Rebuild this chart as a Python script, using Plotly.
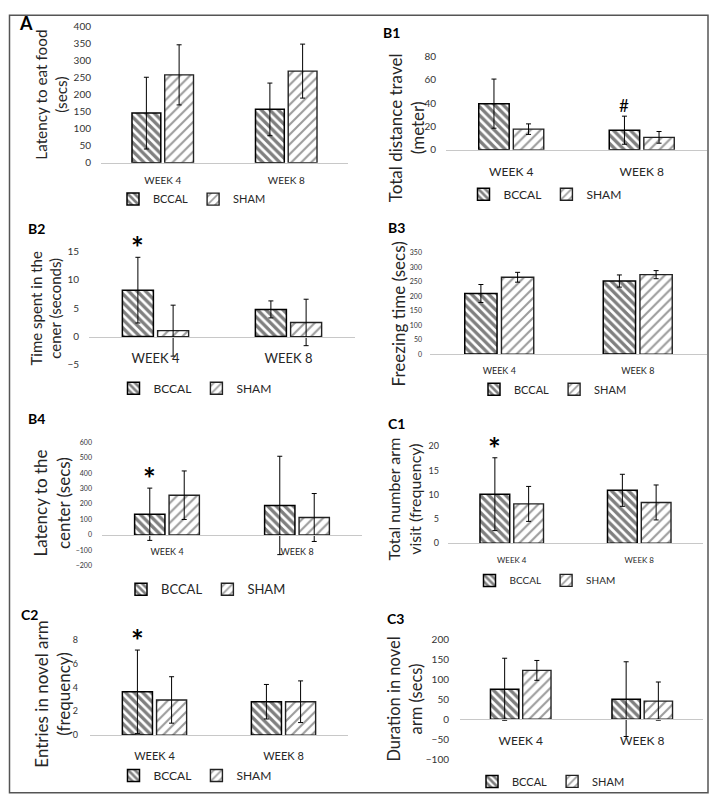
import plotly.graph_objects as go

W, H = 721, 812
FONT = "Lato, 'Open Sans', sans-serif"
TXT = "#262626"

categories = ["WEEK 4", "WEEK 8"]
groups = ["BCCAL", "SHAM"]

# ---- data (mean and SD per group, per week) ----
a_bccal = [145, 156]
a_bccal_sd = [105, 77]
a_sham = [257, 268]
a_sham_sd = [88, 79]

b1_bccal = [39.5, 16.8]
b1_bccal_sd = [21, 12]
b1_sham = [17.7, 10.7]
b1_sham_sd = [4.5, 5]

b2_bccal = [8.2, 4.8]
b2_bccal_sd = [5.8, 1.5]
b2_sham = [1.05, 2.5]
b2_sham_sd = [4.5, 4.1]

b3_bccal = [209, 252]
b3_bccal_sd = [31, 21]
b3_sham = [265, 274]
b3_sham_sd = [17, 14]

b4_bccal = [134, 191]
b4_bccal_sd = [169, 318]
b4_sham = [257, 113]
b4_sham_sd = [157, 155]

c1_bccal = [10.1, 10.9]
c1_bccal_sd = [7.5, 3.3]
c1_sham = [8.1, 8.4]
c1_sham_sd = [3.6, 3.6]

c2_bccal = [3.64, 2.8]
c2_bccal_sd = [3.5, 1.45]
c2_sham = [2.95, 2.8]
c2_sham_sd = [1.95, 1.75]

c3_bccal = [75.6, 50.7]
c3_bccal_sd = [78, 94]
c3_sham = [123, 45.8]
c3_sham_sd = [25, 48]

# significance marks: (symbol, group index, category index)
b1_marks = [("#", 0, 1)]
b2_marks = [("*", 0, 0)]
b4_marks = [("*", 0, 0)]
c1_marks = [("*", 0, 0)]
c2_marks = [("*", 0, 0)]

y_titles = {
    "A": "Latency to eat food<br>(secs)",
    "B1": "Total distance travel<br>(meter)",
    "B2": "Time spent in the<br>cener (seconds)",
    "B3": "Freezing time (secs)",
    "B4": "Latency to the<br>center (secs)",
    "C1": "Total number arm<br>visit (frequency)",
    "C2": "Entries in novel arm<br>(frequency)",
    "C3": "Duration in novel<br>arm (secs)",
}

BARGAP = 0.47
BARGROUPGAP = 0.12


def px(x):
    return x / W


def py(y):
    return 1 - y / H


# layout specs (pixel positions of each panel)
specs = [
    dict(name="A", data=(a_bccal, a_bccal_sd, a_sham, a_sham_sd), marks=[],
         xs=(101, 348), ys=(19.3, 158), rng=(0, 400), dtick=50, tf=10, tst=9, cf=10, cst=8,
         tpos=(51, 89), tsz=15.3, lpos=(26, 16), lsz=18, gpos=(192, 195), gsz=11),
    dict(name="B1", data=(b1_bccal, b1_bccal_sd, b1_sham, b1_sham_sd), marks=b1_marks,
         xs=(446, 707), ys=(50, 145), rng=(0, 80), dtick=20, tf=10, tst=9, cf=12, cst=11,
         tpos=(406, 123), tsz=17, lpos=(391, 26), lsz=14, gpos=(545, 190), gsz=12),
    dict(name="B2", data=(b2_bccal, b2_bccal_sd, b2_sham, b2_sham_sd), marks=b2_marks,
         xs=(89, 355), ys=(248.3, 363.3), rng=(-5, 15), dtick=5, tf=10, tst=9, cf=13, cst=10,
         tpos=(46, 306), tsz=15, lpos=(36, 225), lsz=14, gpos=(195, 387), gsz=12),
    dict(name="B3", data=(b3_bccal, b3_bccal_sd, b3_sham, b3_sham_sd), marks=[],
         xs=(430, 707), ys=(249.3, 352.3), rng=(0, 350), dtick=50, tf=7, tst=7, cf=9, cst=8,
         tpos=(398, 312), tsz=17, lpos=(396, 224), lsz=14, gpos=(553, 388), gsz=11),
    dict(name="B4", data=(b4_bccal, b4_bccal_sd, b4_sham, b4_sham_sd), marks=b4_marks,
         xs=(102, 362), ys=(441.7, 567.3), rng=(-200, 600), dtick=100, tf=7, tst=9, cf=9, cst=8,
         tpos=(52, 504), tsz=17, lpos=(36, 418), lsz=14, gpos=(206, 591), gsz=13),
    dict(name="C1", data=(c1_bccal, c1_bccal_sd, c1_sham, c1_sham_sd), marks=c1_marks,
         xs=(448, 703), ys=(445.7, 544.3), rng=(0, 20), dtick=5, tf=9, tst=8, cf=8, cst=9,
         tpos=(404, 500), tsz=16, lpos=(396, 423), lsz=14, gpos=(545, 582), gsz=10),
    dict(name="C2", data=(c2_bccal, c2_bccal_sd, c2_sham, c2_sham_sd), marks=c2_marks,
         xs=(90, 348), ys=(642.3, 739), rng=(0, 8), dtick=2, tf=9, tst=11, cf=11, cst=11,
         tpos=(53, 698), tsz=17, lpos=(29, 617), lsz=14, gpos=(195, 780), gsz=12),
    dict(name="C3", data=(c3_bccal, c3_bccal_sd, c3_sham, c3_sham_sd), marks=[],
         xs=(460, 703), ys=(642.3, 763.3), rng=(-100, 200), dtick=50, tf=10, tst=10, cf=12, cst=10,
         tpos=(405, 703), tsz=16.5, lpos=(395, 621), lsz=14, gpos=(551, 786), gsz=11),
]

styles = [
    dict(color="white", line=dict(color="black", width=1.5),
         pattern=dict(shape="\\", fgcolor="black", bgcolor="white", size=6, solidity=0.55)),
    dict(color="white", line=dict(color="#222", width=1.4),
         pattern=dict(shape="/", fgcolor="#3a3a3a", bgcolor="white", size=7, solidity=0.3)),
]

fig = go.Figure()
layout = dict(
    width=W, height=H, margin=dict(l=0, r=0, t=0, b=0),
    paper_bgcolor="white", plot_bgcolor="white",
    barmode="group", bargap=BARGAP, bargroupgap=BARGROUPGAP,
    font=dict(family=FONT, color=TXT),
    showlegend=True,
)
annotations = []

for i, s in enumerate(specs):
    n = "" if i == 0 else str(i + 1)
    xref, yref = "x" + n, "y" + n
    leg = "legend" + n
    bccal, bccal_sd, sham, sham_sd = s["data"]
    for gi, (vals, sd) in enumerate([(bccal, bccal_sd), (sham, sham_sd)]):
        fig.add_trace(go.Bar(
            x=categories, y=vals, name=groups[gi],
            marker=styles[gi],
            error_y=dict(type="data", array=sd, color="black", thickness=1, width=2.5),
            xaxis=xref, yaxis=yref, legend=leg, showlegend=True,
        ))
    y0, y1 = py(s["ys"][1]), py(s["ys"][0])
    r0, r1 = s["rng"]
    zero_pos = y0 + (0 - r0) / (r1 - r0) * (y1 - y0)
    layout["xaxis" + n] = dict(
        domain=[px(s["xs"][0]), px(s["xs"][1])], anchor="free", position=zero_pos,
        type="category", showline=True, linecolor="#c8c8c8", linewidth=1,
        ticks="", showgrid=False, zeroline=False,
        tickfont=dict(size=s["cf"], color=TXT, family=FONT), ticklabelstandoff=s["cst"],
    )
    layout["yaxis" + n] = dict(
        domain=[y0, y1], anchor=xref, range=[r0, r1], dtick=s["dtick"], tick0=0,
        showline=False, showgrid=False, zeroline=False, ticks="",
        tickfont=dict(size=s["tf"], color="#333", family=FONT), ticklabelstandoff=s["tst"],
    )
    layout[leg] = dict(
        x=px(s["gpos"][0]), y=py(s["gpos"][1]), xanchor="center", yanchor="middle",
        orientation="h", itemwidth=30, bgcolor="rgba(0,0,0,0)",
        font=dict(size=s["gsz"], color=TXT, family=FONT), traceorder="normal",
    )
    # y-axis title
    annotations.append(dict(
        text=y_titles[s["name"]], x=px(s["tpos"][0]), y=py(s["tpos"][1]),
        xref="paper", yref="paper", xanchor="center", yanchor="middle",
        textangle=-90, showarrow=False, font=dict(size=s["tsz"], color=TXT, family=FONT),
    ))
    # panel letter
    annotations.append(dict(
        text="<b>%s</b>" % s["name"], x=px(s["lpos"][0]), y=py(s["lpos"][1]),
        xref="paper", yref="paper", xanchor="center", yanchor="middle",
        showarrow=False, font=dict(size=s["lsz"], color="black", family=FONT),
    ))
    # significance marks
    for sym, gi, ci in s["marks"]:
        vals, sd = [(bccal, bccal_sd), (sham, sham_sd)][gi]
        offset = (1 - BARGAP) / 4 * (-1 if gi == 0 else 1)
        annotations.append(dict(
            text=sym if sym != "*" else "<b>*</b>", x=ci + offset, y=vals[ci] + sd[ci],
            xref=xref, yref=yref,
            xanchor="center", yanchor="bottom", showarrow=False, yshift=-10 if sym == "*" else -2,
            font=dict(size=30 if sym == "*" else 17, color="black", family=FONT),
        ))

layout["annotations"] = annotations
layout["shapes"] = [dict(
    type="rect", xref="paper", yref="paper",
    x0=px(9.5), x1=px(708), y0=py(797.5), y1=py(8.5),
    line=dict(color="#555", width=1.5), fillcolor="rgba(0,0,0,0)", layer="below",
)]
fig.update_layout(**layout)
fig.write_html("out.html", config={"displayModeBar": False},
               post_script="document.body.style.margin='0';document.body.style.overflow='hidden';")
